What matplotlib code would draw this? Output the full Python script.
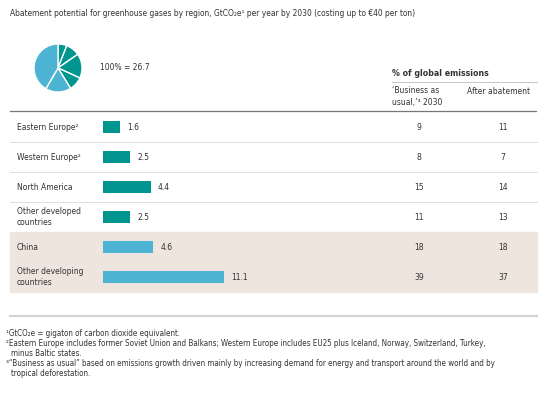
import matplotlib
matplotlib.use("Agg")
import matplotlib.pyplot as plt
from matplotlib.patches import Rectangle

# Data
regions = ["Eastern Europe²", "Western Europe²", "North America",
           "Other developed\ncountries", "China", "Other developing\ncountries"]
abatement = [1.6, 2.5, 4.4, 2.5, 4.6, 11.1]
bau_share = [9, 8, 15, 11, 18, 39]
after_share = [11, 7, 14, 13, 18, 37]
developing = [False, False, False, False, True, True]

TEAL = "#00968F"
BLUE = "#4DB3D3"
BEIGE = "#EEE6DE"
TXT = "#333333"

plt.rcParams["font.family"] = ["DejaVu Sans"]
plt.rcParams["font.stretch"] = "condensed"

W, H = 545, 396
fig = plt.figure(figsize=(W / 100, H / 100), dpi=100)
fig.patch.set_facecolor("white")

# overlay axes in pixel coordinates
ax = fig.add_axes([0, 0, 1, 1])
ax.set_xlim(0, W)
ax.set_ylim(H, 0)
ax.axis("off")

FS = 6.1
ax.text(10, 14, "Abatement potential for greenhouse gases by region, GtCO₂e¹ per year by 2030 (costing up to €40 per ton)",
        fontsize=6.0, color=TXT, va="center", ha="left")

ax.text(100, 68, "100% = 26.7", fontsize=FS, color=TXT, va="center")

# table header
ax.text(392, 73, "% of global emissions", fontsize=6.3, color=TXT, va="center", fontweight="bold")
ax.plot([392, 537], [82, 82], color="#bbbbbb", lw=0.6)
ax.text(392, 96.5, "‘Business as\nusual,’³ 2030", fontsize=FS, color=TXT, va="center", linespacing=1.3)
ax.text(467, 91, "After abatement", fontsize=FS, color=TXT, va="center")

# rows
row_top = 112
row_h = 30
ax.add_patch(Rectangle((10, row_top + 4 * row_h), 527, 2 * row_h, color=BEIGE, zorder=0))
ax.plot([10, 536], [111, 111], color="#777777", lw=0.9)
for i in range(1, 4):
    ax.plot([10, 537], [row_top + i * row_h, row_top + i * row_h], color="#dddddd", lw=0.7)

for i, (lab, b, a) in enumerate(zip(regions, bau_share, after_share)):
    yc = row_top + i * row_h + row_h / 2
    ax.text(17, yc, lab, fontsize=FS, color=TXT, va="center", linespacing=1.35)
    ax.text(419, yc, str(b), fontsize=FS, color=TXT, va="center", ha="center")
    ax.text(503, yc, str(a), fontsize=FS, color=TXT, va="center", ha="center")

# footnote rule and notes
ax.plot([10, 537], [316, 316], color="#d4d4d4", lw=1.6)
fn = 5.8
notes = [
    (6, 333, "¹GtCO₂e = gigaton of carbon dioxide equivalent."),
    (6, 343, "²Eastern Europe includes former Soviet Union and Balkans; Western Europe includes EU25 plus Iceland, Norway, Switzerland, Turkey,"),
    (11, 353, "minus Baltic states."),
    (6, 363, "³“Business as usual” based on emissions growth driven mainly by increasing demand for energy and transport around the world and by"),
    (11, 373, "tropical deforestation."),
]
for x, y, s in notes:
    ax.text(x, y, s, fontsize=fn, color=TXT, va="center")

# bars
scale = 10.9  # px per GtCO2e
xmax = 12
bx = fig.add_axes([103 / W, 1 - (row_top + 6 * row_h) / H, xmax * scale / W, 6 * row_h / H])
bx.patch.set_alpha(0)
colors = [BLUE if d else TEAL for d in developing]
bx.barh(range(len(abatement)), abatement, height=0.4, color=colors)
for i, v in enumerate(abatement):
    bx.text(v + 0.65, i, f"{v}", fontsize=FS, color=TXT, va="center", ha="left")
bx.set_xlim(0, xmax)
bx.set_ylim(len(abatement) - 0.5, -0.5)
bx.axis("off")

# pie
r = 30
px = fig.add_axes([(58 - r) / W, 1 - (68 + r) / H, 2 * r / W, 2 * r / H])
px.pie(abatement, colors=colors, startangle=90, counterclock=False,
       wedgeprops=dict(edgecolor="white", linewidth=1.0))
px.set_aspect("equal")

fig.savefig("out.png", dpi=100)
